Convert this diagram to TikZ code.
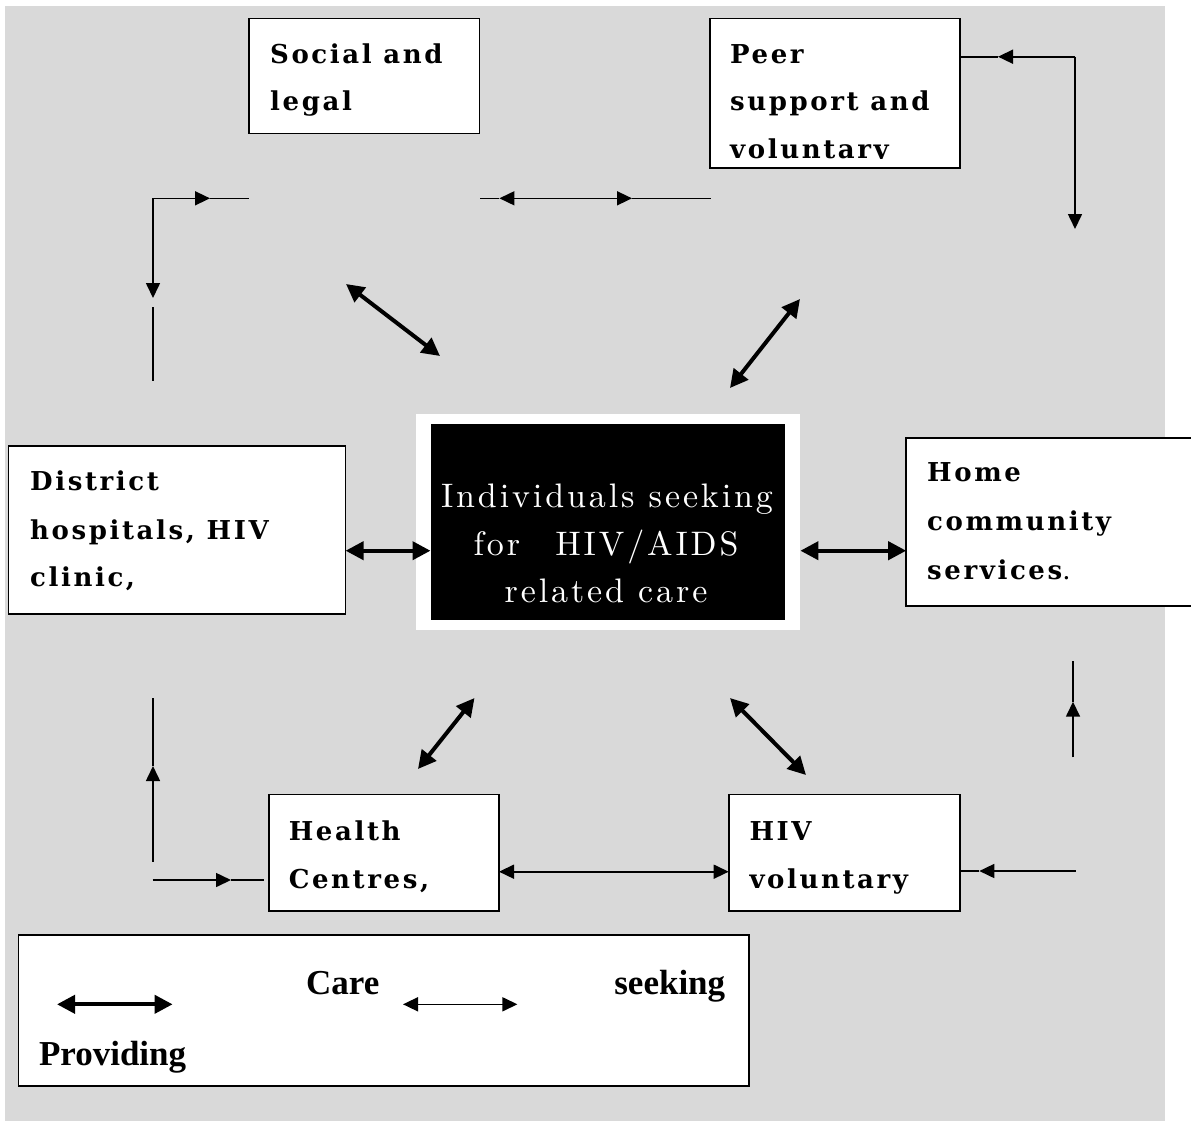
\documentclass[tikz,border=0pt]{standalone}
\usepackage{fontspec}
\usetikzlibrary{arrows.meta}
\newfontfamily\boxfont{DejaVu Serif}[LetterSpace=10]
\newfontfamily\legfont{Liberation Serif}
\newfontfamily\ctrfont{lmroman10-regular.otf}[LetterSpace=8.5]
\definecolor{bggray}{HTML}{D9D9D9}
\tikzset{
  tn/.tip={Triangle[length=15pt,width=14pt]},
  tk/.tip={Triangle[length=18pt,width=18pt]},
  boxstyle/.style={draw=black, fill=white, line width=1.6pt, rectangle, inner sep=0pt, outer sep=0pt},
  boxtext/.style={anchor=base west, inner sep=0pt, font=\boxfont\bfseries\fontsize{26}{48}\selectfont},
  ctrtext/.style={inner sep=0pt, text=white, font=\ctrfont\fontsize{34}{48}\selectfont},
  legtext/.style={inner sep=0pt, font=\legfont\bfseries\fontsize{35}{40}\selectfont},
  thinline/.style={line width=1.6pt},
  thickline/.style={line width=4pt},
}
\begin{document}
\begin{tikzpicture}[x=1pt,y=-1pt]
\useasboundingbox (0,0) rectangle (1191,1120);
\fill[bggray] (4.6,6) rectangle (1165,1125);

% boxes
\node[boxstyle, minimum width=230.7pt, minimum height=115pt, anchor=north west] (social) at (248.8,18.3) {};
\node[boxstyle, minimum width=250pt, minimum height=149.7pt, anchor=north west] (peer) at (710,18.3) {};
\node[boxstyle, minimum width=337.2pt, minimum height=168.3pt, anchor=north west] (district) at (8.4,445.7) {};
\node[boxstyle, minimum width=300pt, minimum height=168.3pt, anchor=north west] (home) at (906.2,437.7) {};
\node[boxstyle, minimum width=230.3pt, minimum height=116.4pt, anchor=north west] (health) at (268.7,794.3) {};
\node[boxstyle, minimum width=231.3pt, minimum height=116.4pt, anchor=north west] (hiv) at (728.7,794.3) {};
\node[boxstyle, minimum width=730.4pt, minimum height=151pt, anchor=north west] (legend) at (18.4,935) {};
\node[fill=white, minimum width=384pt, minimum height=216pt, anchor=north west, inner sep=0pt] (frame) at (416,414) {};
\node[fill=black, minimum width=354.5pt, minimum height=196pt, anchor=north west, inner sep=0pt] (core) at (430.5,424) {};

% box texts
\node[boxtext] (socialA) at (270,63.3) {Social and};
\node[boxtext] (socialB) at (270,110) {legal};
\begin{scope}
\clip (710,18) rectangle (960,158);
\node[boxtext] (peerA) at (730,63) {Peer};
\node[boxtext] (peerB) at (730,110.7) {support and};
\node[boxtext] (peerC) at (730,158.4) {voluntary};
\end{scope}
\node[boxtext] (distA) at (30,490.7) {District};
\node[boxtext] (distB) at (30,539) {hospitals, HIV};
\node[boxtext] (distC) at (30,586.7) {clinic,};
\node[boxtext] (homeA) at (927,481.7) {Home};
\node[boxtext] (homeB) at (927,530) {community};
\node[boxtext] (homeC) at (927,579.3) {services\mdseries.};
\node[boxtext] (healthA) at (288.6,840) {Health};
\node[boxtext] (healthB) at (288.6,888.3) {Centres,};
\node[boxtext] (hivA) at (749.3,840) {HIV};
\node[boxtext] (hivB) at (749.3,888.3) {voluntary};

% centre texts
\node[ctrtext, anchor=base] (ctrA) at (607,507.3) {Individuals seeking};
\node[ctrtext, anchor=base west] (ctrB) at (473.4,555) {for};
\node[ctrtext, anchor=base east] (ctrC) at (738.7,555) {HIV/AIDS};
\node[ctrtext, anchor=base] (ctrD) at (606,602.3) {related care};

% legend texts
\node[legtext, anchor=base west] (legCare) at (306,994.3) {Care};
\node[legtext, anchor=base east] (legSeek) at (725.4,994.3) {seeking};
\node[legtext, anchor=base west] (legProv) at (38.8,1065) {Providing};

% thin connectors (coordinates)
\coordinate (tlc) at (153,198.3);
\coordinate (tlend) at (social.west |- tlc);
\coordinate (tltip) at (210,198.3);
\coordinate (tldown) at (153,298);
\coordinate (tlv1) at (153,307);
\coordinate (tlv2) at (153,380.7);
\draw[thinline, -{tn}] (tlc) -- (tltip);
\draw[thinline] (tltip) -- (tlend);
\draw[thinline, -{tn}] (tlc) -- (tldown);
\draw[thinline] (tlv1) -- (tlv2);

\coordinate (tmL) at (social.east |- tlc);
\coordinate (tmR) at (710.7,198.3);
\coordinate (tmM) at (565,198.3);
\coordinate (tmLt) at (499.4,198.3);
\coordinate (tmRt) at (632,198.3);
\draw[thinline, -{tn}] (tmM) -- (tmLt);
\draw[thinline] (tmLt) -- (tmL);
\draw[thinline, -{tn}] (tmM) -- (tmRt);
\draw[thinline] (tmRt) -- (tmR);

\coordinate (prS) at (960,56.7);
\coordinate (prC) at (1075,56.7);
\coordinate (prT) at (998,56.7);
\coordinate (prD) at (1075,229);
\draw[thinline, -{tn}] (prC) -- (prT);
\draw[thinline] (prT) -- (prS);
\draw[thinline, -{tn}] (prC) -- (prD);

\coordinate (blTop) at (153,697.7);
\coordinate (blBot) at (153,861.7);
\coordinate (blTip) at (153,766);
\draw[thinline, -{tn}] (blBot) -- (blTip);
\draw[thinline] (blTip) -- (blTop);
\coordinate (bhS) at (152.7,880);
\coordinate (bhE) at (263.7,880);
\coordinate (bhT) at (231,880);
\draw[thinline, -{tn}] (bhS) -- (bhT);
\draw[thinline] (bhT) -- (bhE);

\draw[thinline, {tn}-{tn}] (health.east |- 0,871.7) -- (hiv.west |- 0,871.7);

\coordinate (rlE) at (1075.7,871);
\coordinate (rlT) at (979.3,871);
\draw[thinline, -{tn}] (rlE) -- (rlT);
\draw[thinline] (rlT) -- (hiv.east |- rlT);
\coordinate (rvB) at (1073,757.3);
\coordinate (rvT) at (1073,661);
\coordinate (rvTip) at (1073,701.7);
\draw[thinline, -{tn}] (rvB) -- (rvTip);
\draw[thinline] (rvTip) -- (rvT);

% thick connectors
\draw[thickline, {tk}-{tk}] (346,284) -- (440,356);
\draw[thickline, {tk}-{tk}] (730,388) -- (800,299);
\draw[thickline, {tk}-{tk}] (district.east |- 0,550.7) -- (core.west |- 0,550.7);
\draw[thickline, {tk}-{tk}] (frame.east |- 0,550.7) -- (home.west |- 0,550.7);
\draw[thickline, {tk}-{tk}] (474.5,698) -- (418,769);
\draw[thickline, {tk}-{tk}] (730,698) -- (806,775);

% legend arrows
\draw[thickline, {tk}-{tk}] (57,1004.3) -- (172.6,1004.3);
\draw[thinline, {tn}-{tn}] (403,1004.3) -- (517.4,1004.3);
\end{tikzpicture}
\end{document}
